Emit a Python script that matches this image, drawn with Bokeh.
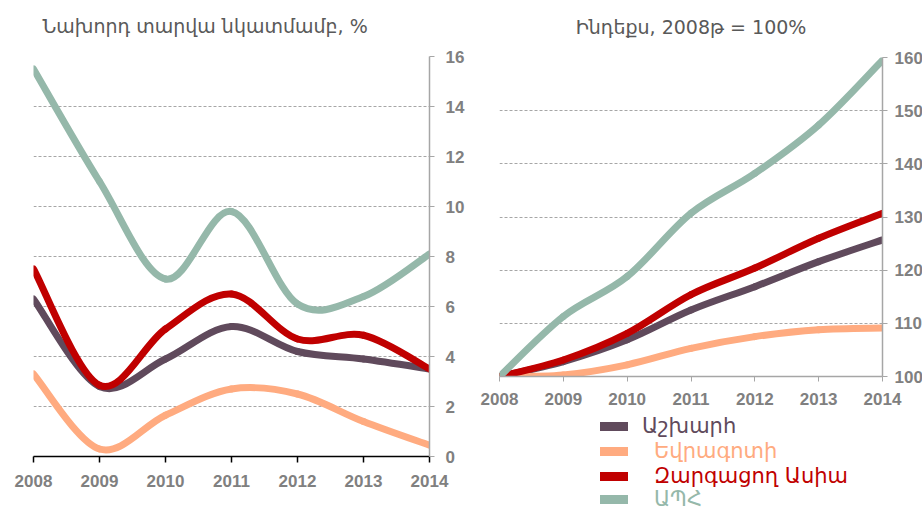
import numpy as np
from bokeh.plotting import figure
from bokeh.layouts import row, column
from bokeh.models import Legend, LegendItem, FixedTicker, Range1d, Title
from bokeh.embed import file_html
from bokeh.resources import INLINE

# ---------------- data ----------------
years = [2008, 2009, 2010, 2011, 2012, 2013, 2014]
series_names = ["Աշխարհ", "Եվրագոտի", "Զարգացող Ասիա", "ԱՊՀ"]
series_colors = ["#604A5C", "#FFAB80", "#C00000", "#95B8AA"]

# growth vs previous year, %
world_growth = [6.3, 2.8, 3.9, 5.2, 4.2, 3.9, 3.5]
euro_growth = [3.3, 0.3, 1.65, 2.7, 2.5, 1.4, 0.45]
asia_growth = [7.5, 2.85, 5.1, 6.5, 4.7, 4.85, 3.5]
cis_growth = [15.5, 11.0, 7.1, 9.8, 6.1, 6.4, 8.1]

# index, 2008 = 100
world_idx = [100, 102.8, 106.9, 112.5, 116.9, 121.6, 125.7]
euro_idx = [100, 100.3, 102.2, 105.3, 107.5, 108.8, 109.1]
asia_idx = [100, 103.1, 108.1, 115.4, 120.4, 126.0, 130.7]
cis_idx = [100, 111.3, 118.8, 130.7, 138.2, 147.3, 159.5]

left_title = "Նախորդ տարվա նկատմամբ, %"
right_title = "Ինդեքս, 2008թ = 100%"
left_yticks = [0, 2, 4, 6, 8, 10, 12, 14, 16]
right_yticks = [100, 110, 120, 130, 140, 150, 160]

ARM_FONT = "DejaVu Sans"
TICK_FONT = "Liberation Sans"
GRAY = "#808080"


def smooth_segments(xs, ys):
    """Bezier segments through the data points (Excel-style smoothed line)."""
    n = len(xs)
    d = dict(x0=[], y0=[], x1=[], y1=[], cx0=[], cy0=[], cx1=[], cy1=[])
    for i in range(n - 1):
        ip, inn = max(i - 1, 0), min(i + 2, n - 1)
        d["x0"].append(xs[i]); d["y0"].append(ys[i])
        d["x1"].append(xs[i + 1]); d["y1"].append(ys[i + 1])
        d["cx0"].append(xs[i] + (xs[i + 1] - xs[ip]) / 6)
        d["cy0"].append(ys[i] + (ys[i + 1] - ys[ip]) / 6)
        d["cx1"].append(xs[i + 1] - (xs[inn] - xs[i]) / 6)
        d["cy1"].append(ys[i + 1] - (ys[inn] - ys[i]) / 6)
    return d


def style_common(p, title_text, align, offset=0):
    p.outline_line_color = None
    p.background_fill_color = "white"
    p.border_fill_color = "white"
    p.xgrid.visible = False
    p.ygrid.grid_line_color = "#A6A6A6"
    p.ygrid.grid_line_dash = "3 2"
    p.ygrid.grid_line_width = 1
    for ax in (p.xaxis[0], p.yaxis[0]):
        ax.major_label_text_font = TICK_FONT
        ax.major_label_text_font_style = "bold"
        ax.major_label_text_font_size = "17px"
        ax.major_label_text_color = GRAY
        ax.minor_tick_line_color = None
        ax.major_tick_in = 0
        ax.major_tick_out = 5
    p.xaxis[0].ticker = FixedTicker(ticks=years)
    # blank spacer panel between plot area and title
    p.add_layout(Title(text=" ", text_font_size="1px", standoff=15), "above")
    t = Title(text=title_text, text_font=ARM_FONT, text_font_style="normal",
              text_font_size="19px", text_color="#595959", vertical_align="top",
              standoff=0, align=align, offset=offset)
    p.add_layout(t, "above")


# ---------------- left figure ----------------
p1 = figure(frame_width=396, frame_height=400, min_border_left=33, min_border_right=36,
            min_border_top=56, min_border_bottom=49,
            x_range=Range1d(2008, 2014), y_range=Range1d(0, 16),
            y_axis_location="right", toolbar_location=None, output_backend="svg")
style_common(p1, left_title, "left", 9)
p1.yaxis[0].ticker = FixedTicker(ticks=left_yticks)
p1.xaxis[0].axis_line_color = "black"
p1.xaxis[0].axis_line_width = 1.5
p1.xaxis[0].major_tick_line_color = "black"
p1.xaxis[0].major_tick_line_width = 1.5
p1.xaxis[0].major_tick_out = 6
p1.xaxis[0].major_label_standoff = 12
p1.yaxis[0].axis_line_color = "#A6A6A6"
p1.yaxis[0].axis_line_width = 1.5
p1.yaxis[0].major_tick_line_color = "#A6A6A6"
p1.yaxis[0].major_label_standoff = 11

for ys, col in zip([world_growth, euro_growth, asia_growth, cis_growth], series_colors):
    p1.bezier(source=smooth_segments(years, ys), x0="x0", y0="y0", x1="x1", y1="y1",
              cx0="cx0", cy0="cy0", cx1="cx1", cy1="cy1",
              line_color=col, line_width=7, line_cap="round")

# ---------------- right figure ----------------
p2 = figure(frame_width=383, frame_height=319, min_border_left=32, min_border_right=38,
            min_border_top=57, min_border_bottom=37,
            x_range=Range1d(2008, 2014), y_range=Range1d(100, 160),
            y_axis_location="right", toolbar_location=None, output_backend="svg")
style_common(p2, right_title, "center")
p2.yaxis[0].ticker = FixedTicker(ticks=right_yticks)
for ax in (p2.xaxis[0], p2.yaxis[0]):
    ax.axis_line_color = "#A6A6A6"
    ax.axis_line_width = 1.5
    ax.major_tick_line_color = "#A6A6A6"
p2.xaxis[0].major_label_standoff = 11
p2.yaxis[0].major_label_standoff = 7

for ys, col in zip([world_idx, euro_idx, asia_idx, cis_idx], series_colors):
    p2.bezier(source=smooth_segments(years, ys), x0="x0", y0="y0", x1="x1", y1="y1",
              cx0="cx0", cy0="cy0", cx1="cx1", cy1="cy1",
              line_color=col, line_width=7, line_cap="round")

# ---------------- legend (below the right chart) ----------------
leg = figure(frame_width=453, frame_height=98, min_border=0,
             x_range=Range1d(0, 1), y_range=Range1d(0, 1),
             toolbar_location=None, output_backend="svg")
leg.axis.visible = False
leg.grid.visible = False
leg.outline_line_color = None

legend_vy = [73, 48, 23, 0]
legend_standoff = [14, 26, 26, 26]
for name, col, vy, so in zip(series_names, series_colors, legend_vy, legend_standoff):
    # swatch-only renderer (no data point is drawn in the plot area)
    swatch = leg.line(x=np.array([np.nan]), y=np.array([np.nan]),
                      line_color=col, line_width=9, line_cap="round")
    lg = Legend(items=[LegendItem(label=name, renderers=[swatch])], location=(133, vy),
                glyph_width=28, glyph_height=22, label_height=22, label_standoff=so,
                padding=0, margin=0, spacing=0, border_line_color=None,
                background_fill_alpha=0, label_text_font=ARM_FONT,
                label_text_font_size="21px", label_text_color=col,
                inactive_fill_alpha=0)
    leg.add_layout(lg, "center")

layout = row(p1, column(p2, leg))
open("out.html", "w").write(file_html(layout, INLINE))
